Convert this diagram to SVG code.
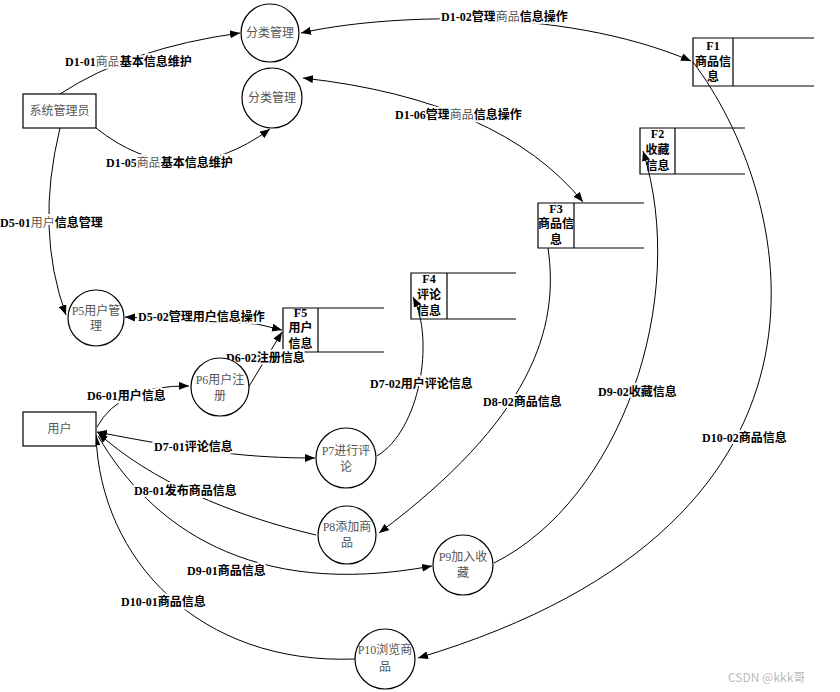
<svg xmlns="http://www.w3.org/2000/svg" width="840" height="692" viewBox="0 0 840 692">
<style>
.n{fill:none;stroke:#000;stroke-width:1.2}
.box{fill:#fff;stroke:#000;stroke-width:1.2}
.ct{font-family:"Liberation Serif","Noto Sans CJK SC",serif;font-size:12px;fill:#555;text-anchor:middle}
.st{font-family:"Liberation Serif","Noto Sans CJK SC",serif;font-size:12px;font-weight:bold;fill:#000;text-anchor:middle}
.lb{font-family:"Liberation Serif","Noto Sans CJK SC",serif;font-size:12px;font-weight:bold;fill:#000;stroke:#fff;stroke-width:4;paint-order:stroke;stroke-linejoin:round}
.lt{font-weight:normal;fill:#555}
.c{fill:none;stroke:#000;stroke-width:1}
.wm{font-family:"Noto Sans CJK SC",sans-serif;font-size:12px;fill:#bbb}
</style>
<defs>
<marker id="ar" viewBox="0 0 10 8" refX="10" refY="4" markerWidth="10" markerHeight="8" markerUnits="userSpaceOnUse" orient="auto-start-reverse">
<path d="M0,0 L10,4 L0,8 Z" fill="#000"/>
</marker>
</defs>

<g id="n-f1">
<path class="n" d="M814,38 H693 V86 H814 M733,38 V86"/>
<text class="st" x="713" y="50">F1</text><text class="st" x="713" y="66">商品信</text><text class="st" x="713" y="81">息</text>
</g>
<g id="n-f2">
<path class="n" d="M745,128 H640 V174 H745 M675,128 V174"/>
<text class="st" x="657.5" y="138">F2</text><text class="st" x="657.5" y="154">收藏</text><text class="st" x="657.5" y="170">信息</text>
</g>
<g id="n-f3">
<path class="n" d="M644,203 H538 V248 H644 M574,203 V248"/>
<text class="st" x="556" y="213">F3</text><text class="st" x="556" y="228">商品信</text><text class="st" x="556" y="244">息</text>
</g>
<g id="n-f4">
<path class="n" d="M516,273 H411 V319 H516 M447,273 V319"/>
<text class="st" x="429" y="283">F4</text><text class="st" x="429" y="299">评论</text><text class="st" x="429" y="315">信息</text>
</g>
<g id="n-f5">
<path class="n" d="M384,308 H283 V352 H384 M318,308 V352"/>
<text class="st" x="300.5" y="317">F5</text><text class="st" x="300.5" y="332">用户</text><text class="st" x="300.5" y="348">信息</text>
</g>

<g id="connectors">
<path class="c" d="M60,94 Q130,48 240,33" marker-end="url(#ar)"/>
<path class="c" d="M96,128 Q180,195 270,129" marker-end="url(#ar)"/>
<path class="c" d="M301,33 C380,15 560,5 691,61" marker-start="url(#ar)" marker-end="url(#ar)"/>
<path class="c" d="M303,78 Q500,100 583,202" marker-start="url(#ar)" marker-end="url(#ar)"/>
<path class="c" d="M60,128 Q35,230 66,315" marker-end="url(#ar)"/>
<path class="c" d="M125,317 L257,324 L282,330" marker-start="url(#ar)" marker-end="url(#ar)"/>
<path class="c" d="M248,388 L282,332" marker-end="url(#ar)"/>
<path class="c" d="M97,427 Q120,385 189,386" marker-end="url(#ar)"/>
<path class="c" d="M97,432 C200,452 250,458 315,458" marker-start="url(#ar)" marker-end="url(#ar)"/>
<path class="c" d="M316,535 C230,515 150,480 98,433" marker-end="url(#ar)"/>
<path class="c" d="M98,436 C150,525 250,600 432,566" marker-end="url(#ar)"/>
<path class="c" d="M355,659 C200,665 100,560 96,435" marker-end="url(#ar)"/>
<path class="c" d="M377,456 C420,430 435,340 413,297" marker-end="url(#ar)"/>
<path class="c" d="M548,248 C560,330 530,420 379,533" marker-end="url(#ar)"/>
<path class="c" d="M494,563 C620,500 690,300 643,151" marker-end="url(#ar)"/>
<path class="c" d="M693,62 C790,190 880,520 418,658" marker-end="url(#ar)"/>
</g>

<g id="labels">
<text class="lb" x="65" y="66">D1-01<tspan class="lt">商品</tspan>基本信息维护</text>
<text class="lb" x="106" y="167">D1-05<tspan class="lt">商品</tspan>基本信息维护</text>
<text class="lb" x="441" y="21">D1-02管理<tspan class="lt">商品</tspan>信息操作</text>
<text class="lb" x="395" y="119">D1-06管理<tspan class="lt">商品</tspan>信息操作</text>
<text class="lb" x="0" y="227">D5-01<tspan class="lt">用户</tspan>信息管理</text>
<text class="lb" x="138" y="321">D5-02管理用户信息操作</text>
<text class="lb" x="226" y="362">D6-02注册信息</text>
<text class="lb" x="87" y="400">D6-01用户信息</text>
<text class="lb" x="154" y="451">D7-01评论信息</text>
<text class="lb" x="134" y="495">D8-01发布商品信息</text>
<text class="lb" x="187" y="575">D9-01商品信息</text>
<text class="lb" x="121" y="606">D10-01商品信息</text>
<text class="lb" x="370" y="388">D7-02用户评论信息</text>
<text class="lb" x="483" y="406">D8-02商品信息</text>
<text class="lb" x="598" y="396">D9-02收藏信息</text>
<text class="lb" x="702" y="442">D10-02商品信息</text>
</g>

<g id="n-fenlei1"><circle class="box" cx="270" cy="33" r="29"/><text class="ct" x="270" y="37">分类管理</text></g>
<g id="n-fenlei2"><circle class="box" cx="272" cy="98" r="30"/><text class="ct" x="272" y="102">分类管理</text></g>
<g id="n-admin"><rect class="box" x="23" y="94" width="73" height="34"/><text class="ct" x="59.5" y="115">系统管理员</text></g>
<g id="n-user"><rect class="box" x="23" y="412" width="73" height="34"/><text class="ct" x="59.5" y="433">用户</text></g>
<g id="n-p5"><circle class="box" cx="96" cy="318" r="28"/><text class="ct" x="96" y="315">P5用户管</text><text class="ct" x="96" y="330">理</text></g>
<g id="n-p6"><circle class="box" cx="220" cy="387" r="29"/><text class="ct" x="220" y="384">P6用户注</text><text class="ct" x="220" y="400">册</text></g>
<g id="n-p7"><circle class="box" cx="346" cy="458" r="30"/><text class="ct" x="346" y="455">P7进行评</text><text class="ct" x="346" y="471">论</text></g>
<g id="n-p8"><circle class="box" cx="347" cy="535" r="29"/><text class="ct" x="347" y="531">P8添加商</text><text class="ct" x="347" y="547">品</text></g>
<g id="n-p9"><circle class="box" cx="463" cy="565" r="30"/><text class="ct" x="463" y="561">P9加入收</text><text class="ct" x="463" y="577">藏</text></g>
<g id="n-p10"><circle class="box" cx="385" cy="659" r="30"/><text class="ct" x="385" y="654">P10浏览商</text><text class="ct" x="385" y="671">品</text></g>

<text class="wm" x="728" y="682">CSDN @kkk哥</text>
</svg>
